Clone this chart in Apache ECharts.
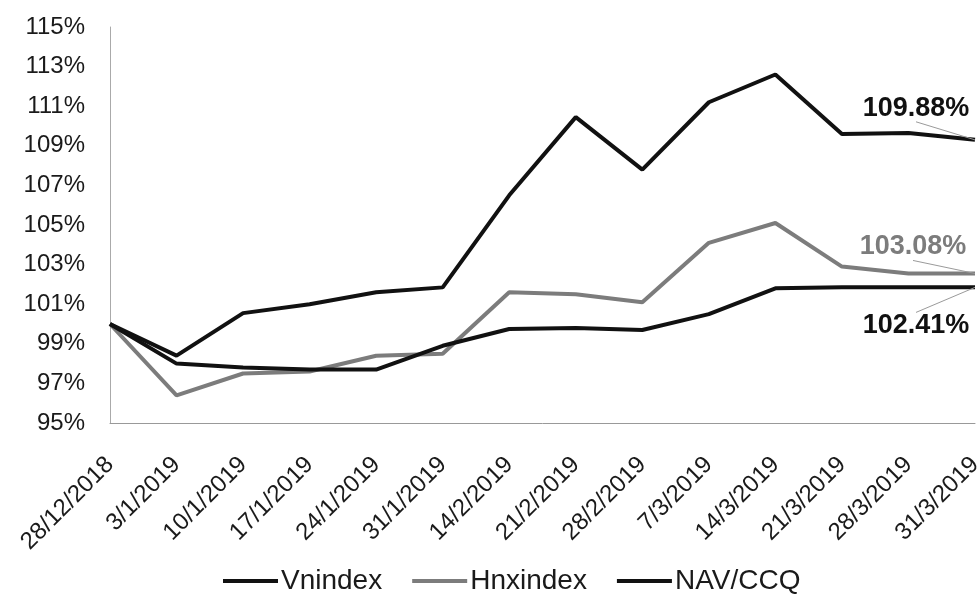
<!DOCTYPE html>
<html>
<head>
<meta charset="utf-8">
<script src="https://cdn.jsdelivr.net/npm/echarts@6/dist/echarts.min.js"></script>
<style>
  html, body { margin: 0; padding: 0; background: #fff; }
  #main { width: 977px; height: 598px; }
</style>
</head>
<body>
<div id="main"></div>
<script>
const dates = [
  '28/12/2018', '3/1/2019', '10/1/2019', '17/1/2019', '24/1/2019', '31/1/2019', '14/2/2019',
  '21/2/2019', '28/2/2019', '7/3/2019', '14/3/2019', '21/3/2019', '28/3/2019', '31/3/2019',
];
const vnindex = [100, 98.4, 100.55, 101.0, 101.6, 101.85, 106.5, 110.45, 107.8, 111.2, 112.6, 109.6, 109.65, 109.3];
const hnxindex = [100, 96.4, 97.5, 97.6, 98.4, 98.5, 101.6, 101.5, 101.1, 104.1, 105.1, 102.9, 102.55, 102.55];
const navCcq = [100, 98.0, 97.8, 97.7, 97.7, 98.9, 99.75, 99.8, 99.7, 100.5, 101.8, 101.85, 101.85, 101.85];
const endLabels = ['109.88%', '103.08%', '102.41%'];
const yTicks = { min: 95, max: 115, step: 2 };

const font = 'Liberation Sans, Arial, sans-serif';
const chart = echarts.init(document.getElementById('main'));

// only the last point gets a label; wide invisible side padding pushes the guide line to the label's top/bottom
const makeSeries = (name, values, color, endText, pos, dx, dy) => ({
  name,
  type: 'line',
  symbol: 'circle',
  symbolSize: 0.1,
  showSymbol: true,
  lineStyle: { color, width: 4 },
  itemStyle: { color },
  data: values.map((v, i) => {
    if (i !== values.length - 1) {
      return v;
    }
    return {
      value: v,
      label: {
        show: true,
        position: pos,
        formatter: endText,
        color,
        padding: [0, 100, 0, 100],
        backgroundColor: 'rgba(255,255,255,0.01)',
        fontFamily: font,
        fontWeight: 'bold',
        fontSize: 27,
      },
    };
  }),
  labelLine: { show: true, lineStyle: { color: '#9a9a9a', width: 1 } },
  labelLayout: { dx, dy },
  z: name === 'Hnxindex' ? 2 : 3,
});

chart.setOption({
  backgroundColor: '#fff',
  animation: false,
  grid: { left: 110, right: 2, top: 27, bottom: 175, outerBoundsMode: 'none' },
  legend: {
    left: 218,
    bottom: -2,
    icon: 'rect',
    itemWidth: 55,
    itemHeight: 4,
    itemGap: 30,
    textStyle: { fontFamily: font, fontSize: 28, color: '#1a1a1a', padding: [0, 0, 0, -2] },
    data: ['Vnindex', 'Hnxindex', 'NAV/CCQ'],
  },
  xAxis: {
    type: 'category',
    data: dates,
    boundaryGap: false,
    axisLine: { lineStyle: { color: '#999', width: 1 } },
    axisTick: { show: false },
    axisLabel: {
      rotate: 45,
      interval: 0,
      margin: 38,
      fontFamily: font,
      fontSize: 24,
      color: '#1a1a1a',
    },
  },
  yAxis: {
    type: 'value',
    min: yTicks.min,
    max: yTicks.max,
    interval: yTicks.step,
    splitLine: { show: false },
    axisLine: { show: true, lineStyle: { color: '#aaa', width: 1 } },
    axisTick: { show: false },
    axisLabel: {
      formatter: '{value}%',
      margin: 25,
      fontFamily: font,
      fontSize: 24,
      color: '#1a1a1a',
    },
  },
  series: [
    makeSeries('Vnindex', vnindex, '#111', endLabels[0], 'top', -59, -13),
    makeSeries('Hnxindex', hnxindex, '#7c7c7c', endLabels[1], 'top', -62, -8),
    makeSeries('NAV/CCQ', navCcq, '#111', endLabels[2], 'bottom', -59, 20),
  ],
});
</script>
</body>
</html>
